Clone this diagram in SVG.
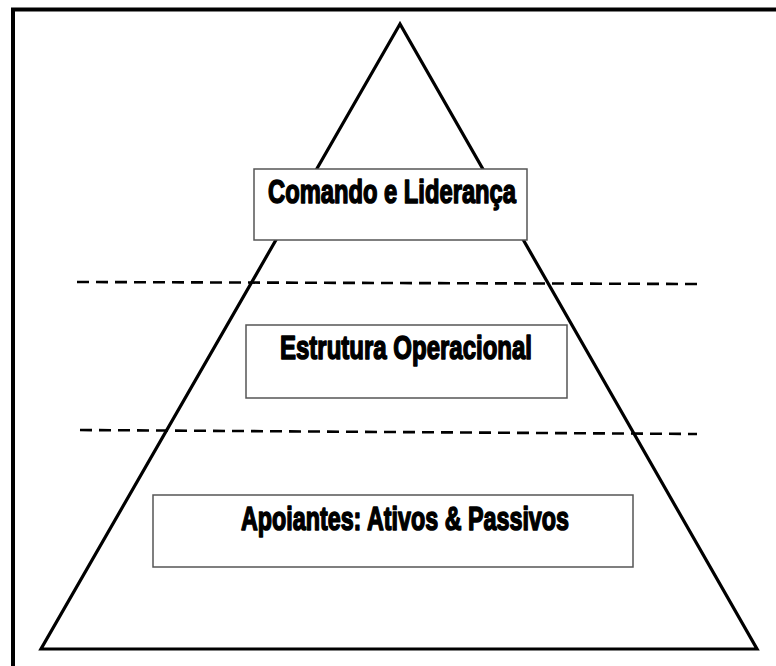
<svg xmlns="http://www.w3.org/2000/svg" width="776" height="666" viewBox="0 0 776 666">
  <style>
    .frame{fill:none;stroke:#000;stroke-width:4}
    .tri{fill:none;stroke:#000;stroke-width:3.2;stroke-linejoin:miter}
    .dash{fill:none;stroke:#000;stroke-width:2.6;stroke-dasharray:12 7}
    .box{fill:#fff;stroke:#555;stroke-width:1.5}
    .lbl{font-family:"Liberation Sans",Arial,sans-serif;font-weight:bold;font-size:34px;fill:#000;stroke:#000;stroke-width:1.6;stroke-linejoin:round}
  </style>
  <rect x="0" y="0" width="776" height="666" fill="#fff"/>
  <path class="frame" d="M13 666 V9.5 H776"/>
  <polygon class="tri" points="400,24 41,649 757,649"/>
  <g id="connectors">
    <line class="dash" x1="77" y1="282" x2="697" y2="284"/>
    <line class="dash" x1="80" y1="430" x2="697" y2="434"/>
  </g>
  <g id="node-comando">
    <rect class="box" x="254" y="169" width="273" height="71"/>
    <text class="lbl" x="392" y="203" text-anchor="middle" textLength="248" lengthAdjust="spacingAndGlyphs">Comando e Liderança</text>
  </g>
  <g id="node-estrutura">
    <rect class="box" x="246" y="325" width="321" height="73"/>
    <text class="lbl" x="406" y="359" text-anchor="middle" textLength="252" lengthAdjust="spacingAndGlyphs">Estrutura Operacional</text>
  </g>
  <g id="node-apoiantes">
    <rect class="box" x="153" y="495" width="480" height="72"/>
    <text class="lbl" x="405" y="530" text-anchor="middle" textLength="328" lengthAdjust="spacingAndGlyphs">Apoiantes: Ativos &amp; Passivos</text>
  </g>
</svg>
